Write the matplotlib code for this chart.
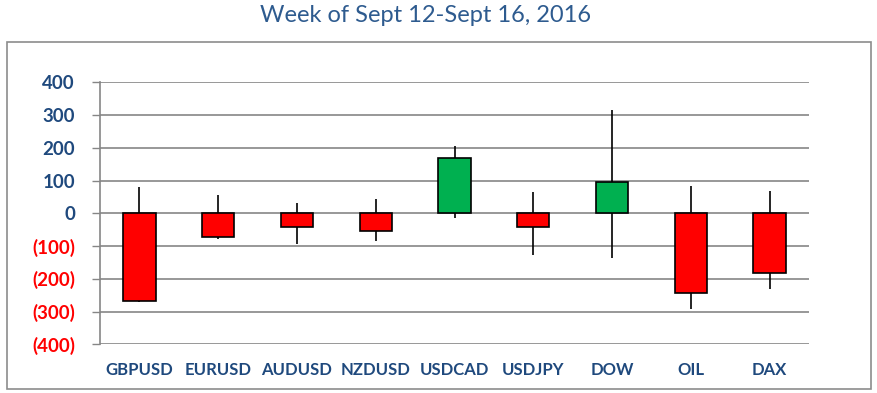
import matplotlib.pyplot as plt
from matplotlib.patches import Rectangle

symbols = ['GBPUSD', 'EURUSD', 'AUDUSD', 'NZDUSD', 'USDCAD', 'USDJPY', 'DOW', 'OIL', 'DAX']
open_ = [0, 0, 0, 0, 0, 0, 0, 0, 0]
close = [-268, -73, -43, -55, 168, -43, 95, -244, -183]
high = [81, 55, 30, 43, 205, 66, 314, 82, 67]
low = [-272, -79, -95, -85, -15, -128, -137, -293, -231]

yticks = [-400, -300, -200, -100, 0, 100, 200, 300, 400]

blue = '#1F497D'
grid_gray = '#868686'

plt.rcParams['font.family'] = ['Lato', 'DejaVu Sans']

fig = plt.figure(figsize=(8.77, 3.93), dpi=100)
ax = fig.add_axes([100 / 877, 1 - 344.3 / 393, 709 / 877, 262 / 393])

x = list(range(len(symbols)))
colors = ['#00B050' if c > o else '#FF0000' for o, c in zip(open_, close)]

ax.vlines(x, low, high, color='black', linewidth=1.2, zorder=2)
ax.bar(x, [c - o for o, c in zip(open_, close)], bottom=open_, width=0.41,
       color=colors, edgecolor='black', linewidth=1.2, zorder=3)

ax.set_xlim(-0.5, len(symbols) - 0.5)
ax.set_ylim(-400, 400)
ax.set_yticks(yticks)
ax.set_yticklabels(['(%d)' % -v if v < 0 else '%d' % v for v in yticks])
for lab, v in zip(ax.get_yticklabels(), yticks):
    lab.set_color('#FF0000' if v < 0 else blue)
    lab.set_fontweight('bold')
    lab.set_fontsize(13.5)

ax.set_xticks(x)
ax.set_xticklabels(symbols, color=blue, fontweight='bold', fontsize=12)

ax.tick_params(axis='x', length=0, pad=13)
ax.tick_params(axis='y', length=6, width=1, color=grid_gray, pad=12)
ax.grid(axis='y', color=grid_gray, linewidth=1.2, zorder=0)
ax.set_axisbelow(True)
for s in ['top', 'right', 'bottom']:
    ax.spines[s].set_visible(False)
ax.spines['left'].set_color(grid_gray)
ax.spines['left'].set_linewidth(1.2)

fig.add_artist(Rectangle((6.7 / 877, 1 - 389.3 / 393), 864 / 877, 347.6 / 393,
                         transform=fig.transFigure, fill=False,
                         edgecolor='#8C8C8C', linewidth=1.2))

fig.text(426 / 877, 1 - 16 / 393, 'Week of Sept 12-Sept 16, 2016', ha='center', va='center',
         fontsize=17, color='#2E5B8F')

fig.savefig('out.png', dpi=100)
